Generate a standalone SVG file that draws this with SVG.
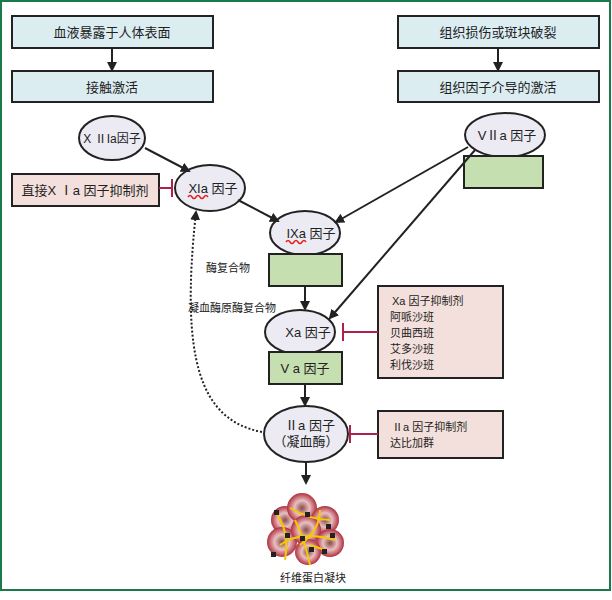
<svg xmlns="http://www.w3.org/2000/svg" width="612" height="600" viewBox="0 0 612 600">
<defs>
<marker id="ah" markerWidth="10" markerHeight="10" refX="8" refY="5" orient="auto" markerUnits="userSpaceOnUse"><path d="M0,0 L10,5 L0,10 z" fill="#222"/></marker>
<radialGradient id="rbc"><stop offset="0" stop-color="#8a4a4a"/><stop offset="0.5" stop-color="#e8c0c0"/><stop offset="1" stop-color="#b03040"/></radialGradient>
</defs>
<style>
text{font-family:"Liberation Sans","Noto Sans CJK SC",sans-serif;font-size:13px;fill:#222}
.s{font-size:11px}
.blue{fill:#dcedf2;stroke:#222;stroke-width:2}
.pink{fill:#f3e0dc;stroke:#222;stroke-width:2}
.green{fill:#c6dfb0;stroke:#222;stroke-width:2}
.ell{fill:#ecebf4;stroke:#222;stroke-width:2}
.ar{stroke:#222;stroke-width:2;fill:none;marker-end:url(#ah)}
.inh{stroke:#b0204a;stroke-width:2;fill:none}
</style>
<rect x="1" y="1" width="609" height="589" fill="#fff" stroke="#1a7a4a" stroke-width="2"/>
<g id="n1"><rect class="blue" x="12" y="16" width="201" height="32"/><text x="112" y="37" text-anchor="middle">血液暴露于人体表面</text></g>
<g id="n2"><rect class="blue" x="12" y="71" width="201" height="31"/><text x="112" y="92" text-anchor="middle">接触激活</text></g>
<g id="n3"><rect class="blue" x="398" y="16" width="201" height="32"/><text x="498" y="37" text-anchor="middle">组织损伤或斑块破裂</text></g>
<g id="n4"><rect class="blue" x="398" y="71" width="201" height="31"/><text x="498" y="92" text-anchor="middle">组织因子介导的激活</text></g>
<g id="n5"><ellipse class="ell" cx="112" cy="138" rx="33" ry="22"/><text x="112" y="143" text-anchor="middle" class="s" style="font-size:12px">X ⅡIa因子</text></g>
<g id="n6"><ellipse class="ell" cx="210" cy="188" rx="35" ry="23"/><text x="213" y="193" text-anchor="middle">XIa 因子</text><path d="M188,197 q2,-3 4,0 t4,0 t4,0 t4,0 t4,0" stroke="#e02020" stroke-width="1.5" fill="none"/></g>
<g id="n7"><rect class="pink" x="12" y="174" width="147" height="32"/><text x="85" y="195" text-anchor="middle">直接X Ⅰa 因子抑制剂</text></g>
<g id="n8"><ellipse class="ell" cx="505" cy="135" rx="40" ry="22"/><text x="507" y="140" text-anchor="middle">VⅡa 因子</text><rect class="green" x="464" y="156" width="79" height="32"/></g>
<g id="n9"><ellipse class="ell" cx="305" cy="233" rx="35" ry="22"/><text x="311" y="238" text-anchor="middle">IXa 因子</text><path d="M286,242 q2,-3 4,0 t4,0 t4,0 t4,0 t4,0" stroke="#e02020" stroke-width="1.5" fill="none"/><rect class="green" x="269" y="254" width="73" height="32"/></g>
<g id="n10"><ellipse class="ell" cx="300" cy="332" rx="35" ry="22"/><text x="308" y="337" text-anchor="middle">Xa 因子</text><rect class="green" x="269" y="352" width="73" height="32"/><text x="305" y="373" text-anchor="middle">V a 因子</text></g>
<g id="n11"><rect class="pink" x="378" y="286" width="125" height="92"/><text class="s" x="392" y="305">Xa 因子抑制剂</text><text class="s" x="390" y="321">阿哌沙班</text><text class="s" x="390" y="337">贝曲西班</text><text class="s" x="390" y="353">艾多沙班</text><text class="s" x="390" y="369">利伐沙班</text></g>
<g id="n12"><ellipse class="ell" cx="306" cy="434" rx="42" ry="28"/><text x="310" y="430" text-anchor="middle">Ⅱa 因子</text><text x="306" y="446" text-anchor="middle">（凝血酶）</text></g>
<g id="n13"><rect class="pink" x="378" y="411" width="125" height="47"/><text class="s" x="392" y="431">Ⅱa 因子抑制剂</text><text class="s" x="390" y="447">达比加群</text></g>
<g id="clot">
<circle cx="285" cy="520" r="14" fill="url(#rbc)"/><circle cx="302" cy="508" r="15" fill="url(#rbc)"/><circle cx="325" cy="520" r="14" fill="url(#rbc)"/>
<circle cx="282" cy="542" r="15" fill="url(#rbc)"/><circle cx="306" cy="530" r="15" fill="url(#rbc)"/><circle cx="330" cy="543" r="14" fill="url(#rbc)"/><circle cx="308" cy="552" r="13" fill="url(#rbc)"/>
<path d="M275,512 Q290,530 285,560 M290,508 Q310,520 330,520 M295,520 Q305,540 310,565 M320,510 Q320,530 300,545 M280,545 Q300,530 335,540 M310,545 L325,550" stroke="#f5c800" stroke-width="2" fill="none"/>
<g fill="#222"><rect x="274" y="510" width="5" height="5"/><rect x="305" y="512" width="5" height="5"/><rect x="285" y="533" width="5" height="5"/><rect x="300" y="536" width="5" height="5"/><rect x="326" y="524" width="5" height="5"/><rect x="330" y="533" width="5" height="5"/><rect x="309" y="547" width="5" height="5"/><rect x="322" y="549" width="5" height="5"/><rect x="271" y="552" width="5" height="5"/></g>
<text class="s" x="313" y="582" text-anchor="middle">纤维蛋白凝块</text>
</g>
<text class="s" x="206" y="272">酶复合物</text>
<text class="s" x="188" y="312">凝血酶原酶复合物</text>
<g id="connectors">
<path class="ar" d="M112,48 V70"/>
<path class="ar" d="M498,48 V70"/>
<path class="ar" d="M145,148 L189,171"/>
<path class="ar" d="M238,200 L278,221"/>
<path class="ar" d="M468,147 L336,222"/>
<path class="ar" d="M475,150 L330,318"/>
<path class="ar" d="M305,286 V309"/>
<path class="ar" d="M305,384 V405"/>
<path class="ar" d="M306,462 V483"/>
<path class="ar" d="M262,432 C200,420 180,360 196,212" stroke-dasharray="2,2"/>
<path class="inh" d="M159,188 H172 M172,179 V197"/>
<path class="inh" d="M378,332 H343 M343,323 V341"/>
<path class="inh" d="M378,434 H350 M350,425 V443"/>
</g>
</svg>
